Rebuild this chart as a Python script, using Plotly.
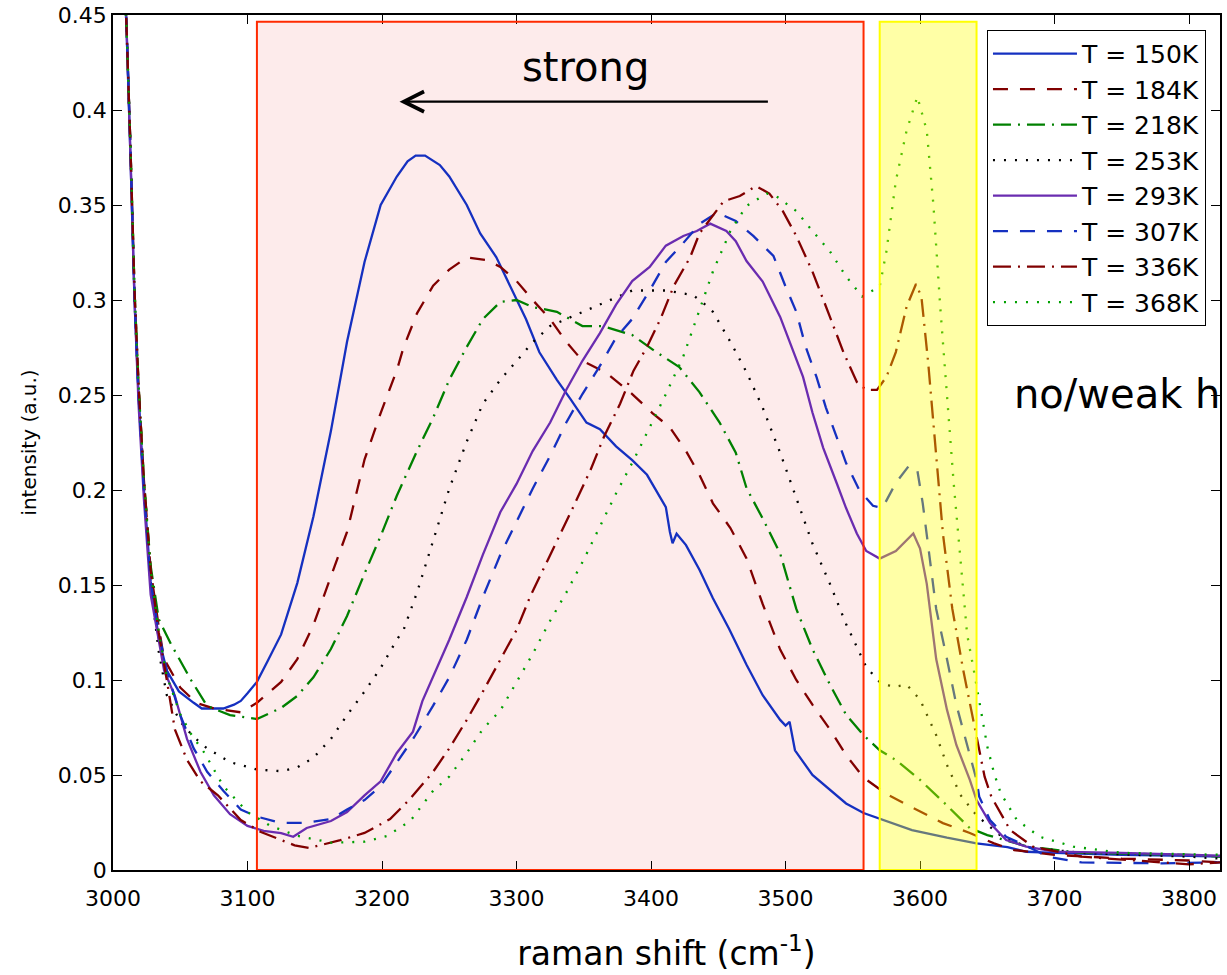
import plotly.graph_objects as go

# ---------------- data ----------------
x_150 = [3005, 3010, 3013, 3016, 3019, 3023, 3028, 3034, 3040, 3049, 3060, 3066, 3075, 3082, 3090, 3095,
         3100, 3107, 3115, 3125, 3137, 3149, 3162, 3174, 3187, 3199, 3211, 3219, 3225, 3232, 3243, 3250,
         3263, 3273, 3285, 3295, 3307, 3317, 3330, 3340, 3352, 3362, 3374, 3386, 3397, 3411, 3414, 3416,
         3419, 3426, 3436, 3446, 3458, 3471, 3483, 3496, 3500, 3503, 3507, 3520, 3533, 3545, 3558, 3570,
         3594, 3620, 3642, 3665, 3679, 3700, 3750, 3800, 3823]
y_150 = [0.52, 0.445, 0.375, 0.30, 0.25, 0.20, 0.152, 0.122, 0.105, 0.094, 0.088, 0.085, 0.085, 0.085, 0.087, 0.089,
         0.093, 0.099, 0.110, 0.124, 0.151, 0.186, 0.231, 0.278, 0.320, 0.350, 0.365, 0.373, 0.376, 0.376, 0.371, 0.365,
         0.350, 0.335, 0.3225, 0.3075, 0.290, 0.2725, 0.258, 0.248, 0.2355, 0.232, 0.223, 0.2157, 0.208, 0.191, 0.178, 0.172,
         0.177, 0.171, 0.158, 0.143, 0.127, 0.108, 0.092, 0.079, 0.076, 0.078, 0.063, 0.050, 0.042, 0.035, 0.030, 0.027,
         0.021, 0.017, 0.014, 0.012, 0.0096, 0.009, 0.008, 0.0075, 0.007]

x_184 = [3005, 3010, 3013, 3016, 3019, 3023, 3028, 3034, 3038, 3050, 3062, 3075, 3095, 3107, 3125, 3137,
         3149, 3162, 3174, 3187, 3199, 3211, 3216, 3226, 3238, 3250, 3263, 3278, 3288, 3300, 3312, 3325,
         3337, 3349, 3367, 3386, 3401, 3414, 3426, 3436, 3446, 3459, 3471, 3483, 3496, 3508, 3520, 3533,
         3545, 3558, 3575, 3595, 3617, 3637, 3655, 3670, 3700, 3750, 3800, 3823]
y_184 = [0.52, 0.445, 0.38, 0.305, 0.255, 0.205, 0.158, 0.128, 0.111, 0.096, 0.088, 0.085, 0.083, 0.088, 0.099, 0.111,
         0.129, 0.154, 0.178, 0.216, 0.2405, 0.263, 0.275, 0.293, 0.3075, 0.316, 0.3224, 0.321, 0.3174, 0.310, 0.300, 0.290,
         0.278, 0.268, 0.2615, 0.2505, 0.2405, 0.233, 0.2205, 0.208, 0.193, 0.180, 0.164, 0.140, 0.116, 0.100, 0.087, 0.074,
         0.0605, 0.0486, 0.040, 0.0326, 0.0247, 0.0195, 0.014, 0.0105, 0.008, 0.006, 0.005, 0.004]

x_218 = [3005, 3010, 3013, 3016, 3019, 3023, 3028, 3034, 3043, 3058, 3070, 3087, 3107, 3125, 3137, 3149,
         3162, 3174, 3187, 3199, 3211, 3226, 3238, 3250, 3263, 3275, 3288, 3300, 3312, 3330, 3349, 3364,
         3386, 3401, 3421, 3436, 3451, 3463, 3471, 3483, 3496, 3508, 3520, 3533, 3545, 3558, 3570, 3582,
         3600, 3620, 3637, 3650, 3680, 3720, 3800, 3823]
y_218 = [0.52, 0.445, 0.38, 0.305, 0.255, 0.205, 0.16, 0.132, 0.119, 0.100, 0.0863, 0.0815, 0.0795, 0.0853, 0.0916, 0.1014,
         0.1163, 0.1337, 0.156, 0.1758, 0.197, 0.2205, 0.238, 0.258, 0.2753, 0.290, 0.299, 0.300, 0.2963, 0.2938, 0.2863, 0.2863,
         0.2816, 0.274, 0.2647, 0.2515, 0.2355, 0.2196, 0.201, 0.185, 0.1666, 0.1374, 0.1163, 0.0976, 0.0817, 0.071, 0.063, 0.0579,
         0.0474, 0.034, 0.022, 0.0184, 0.0123, 0.009, 0.008, 0.007]

x_253 = [3005, 3010, 3013, 3016, 3019, 3023, 3028, 3034, 3040, 3050, 3060, 3070, 3087, 3107, 3125, 3137,
         3149, 3162, 3174, 3187, 3199, 3211, 3216, 3226, 3238, 3250, 3263, 3275, 3288, 3300, 3312, 3325,
         3337, 3362, 3386, 3411, 3431, 3438, 3446, 3459, 3471, 3483, 3496, 3508, 3520, 3533, 3545, 3560,
         3570, 3580, 3590, 3600, 3612, 3620, 3630, 3642, 3660, 3680, 3720, 3800, 3823]
y_253 = [0.52, 0.445, 0.38, 0.30, 0.25, 0.20, 0.15, 0.115, 0.092, 0.078, 0.070, 0.064, 0.0568, 0.0529, 0.052, 0.054,
         0.0591, 0.069, 0.0815, 0.0939, 0.1063, 0.1212, 0.1263, 0.146, 0.1733, 0.2007, 0.2255, 0.2454, 0.258, 0.268, 0.2777, 0.2863,
         0.290, 0.2976, 0.305, 0.305, 0.3026, 0.299, 0.2938, 0.278, 0.262, 0.2434, 0.2196, 0.1958, 0.1718, 0.1506, 0.1295, 0.1068,
         0.099, 0.0963, 0.0976, 0.0897, 0.071, 0.0553, 0.0395, 0.0287, 0.018, 0.012, 0.009, 0.007, 0.006]

x_293 = [3005, 3010, 3013, 3016, 3019, 3023, 3028, 3034, 3038, 3046, 3055, 3065, 3075, 3087, 3100, 3112,
         3125, 3134, 3144, 3162, 3174, 3187, 3199, 3211, 3223, 3230, 3238, 3250, 3263, 3275, 3288, 3300,
         3312, 3325, 3337, 3349, 3362, 3374, 3386, 3399, 3411, 3424, 3434, 3444, 3456, 3463, 3471, 3483,
         3496, 3503, 3513, 3520, 3528, 3538, 3545, 3553, 3560, 3570, 3582, 3595, 3600, 3605, 3612, 3620,
         3627, 3637, 3642, 3652, 3664, 3679, 3700, 3750, 3823]
y_293 = [0.52, 0.445, 0.375, 0.30, 0.245, 0.195, 0.145, 0.12, 0.105, 0.0916, 0.069, 0.0517, 0.0393, 0.0294, 0.0232, 0.0206,
         0.0194, 0.0175, 0.0221, 0.0258, 0.0305, 0.0393, 0.0467, 0.0616, 0.0728, 0.0889, 0.1016, 0.1212, 0.1437, 0.166, 0.1884, 0.2032,
         0.2205, 0.2355, 0.2528, 0.268, 0.2826, 0.2976, 0.310, 0.3174, 0.3286, 0.3337, 0.3363, 0.3402, 0.3363, 0.331, 0.3205, 0.3097,
         0.2911, 0.278, 0.2595, 0.2408, 0.2222, 0.2037, 0.1905, 0.1771, 0.1679, 0.1639, 0.1679, 0.1771, 0.1692, 0.1506, 0.111, 0.0844,
         0.0658, 0.0474, 0.0368, 0.0247, 0.0158, 0.0123, 0.0097, 0.009, 0.0075]

x_307 = [3005, 3010, 3013, 3016, 3019, 3023, 3028, 3034, 3040, 3050, 3060, 3070, 3082, 3095, 3107, 3125,
         3142, 3162, 3174, 3187, 3199, 3211, 3224, 3238, 3250, 3263, 3275, 3288, 3300, 3312, 3325, 3337,
         3349, 3362, 3374, 3386, 3399, 3411, 3424, 3436, 3449, 3463, 3476, 3491, 3500, 3508, 3515, 3523,
         3530, 3538, 3545, 3555, 3565, 3572, 3582, 3592, 3598, 3602, 3607, 3612, 3620, 3627, 3635, 3642,
         3644, 3652, 3664, 3681, 3695, 3720, 3780, 3823]
y_307 = [0.52, 0.445, 0.38, 0.30, 0.25, 0.20, 0.152, 0.125, 0.105, 0.0815, 0.064, 0.0517, 0.0417, 0.0318, 0.0281, 0.0248,
         0.0248, 0.0268, 0.0318, 0.0368, 0.0442, 0.0568, 0.070, 0.0865, 0.1014, 0.1212, 0.1437, 0.166, 0.1833, 0.2007, 0.218, 0.2355,
         0.2505, 0.2653, 0.2802, 0.290, 0.305, 0.320, 0.330, 0.340, 0.346, 0.3416, 0.3337, 0.3232, 0.3071, 0.2938, 0.2753, 0.2595,
         0.2434, 0.2275, 0.2142, 0.1997, 0.1917, 0.1905, 0.2037, 0.213, 0.2103, 0.193, 0.164, 0.1374, 0.111, 0.087, 0.0658, 0.0474,
         0.0386, 0.0263, 0.0175, 0.012, 0.007, 0.004, 0.0035, 0.004]

x_336 = [3005, 3010, 3013, 3016, 3019, 3023, 3028, 3034, 3040, 3046, 3055, 3065, 3078, 3095, 3110, 3122,
         3135, 3146, 3169, 3187, 3206, 3220, 3238, 3250, 3263, 3275, 3288, 3300, 3310, 3320, 3332, 3342,
         3355, 3365, 3377, 3387, 3397, 3407, 3417, 3429, 3436, 3454, 3466, 3478, 3488, 3498, 3508, 3520,
         3533, 3543, 3553, 3560, 3568, 3575, 3582, 3590, 3597, 3601, 3606, 3612, 3617, 3624, 3632, 3638,
         3643, 3648, 3653, 3667, 3684, 3720, 3780, 3800, 3823]
y_336 = [0.52, 0.445, 0.38, 0.305, 0.255, 0.205, 0.158, 0.125, 0.100, 0.074, 0.058, 0.0467, 0.0393, 0.0263, 0.020, 0.0168,
         0.013, 0.0116, 0.0157, 0.0195, 0.0268, 0.0368, 0.0517, 0.064, 0.079, 0.0939, 0.111, 0.1263, 0.1437, 0.1584, 0.1758, 0.1908,
         0.2105, 0.228, 0.2454, 0.2628, 0.2753, 0.290, 0.3075, 0.3224, 0.335, 0.352, 0.3547, 0.360, 0.356, 0.3468, 0.3337, 0.315,
         0.2911, 0.2726, 0.2568, 0.2527, 0.2527, 0.2595, 0.2726, 0.2965, 0.3084, 0.3018, 0.2674, 0.2168, 0.1771, 0.1374, 0.1056, 0.0844,
         0.0668, 0.0491, 0.0386, 0.021, 0.0123, 0.007, 0.004, 0.003, 0.004]

x_368 = [3005, 3010, 3013, 3016, 3019, 3023, 3028, 3034, 3040, 3050, 3058, 3068, 3082, 3100, 3117, 3137,
         3162, 3187, 3204, 3221, 3238, 3250, 3263, 3275, 3288, 3300, 3312, 3325, 3337, 3350, 3362, 3374,
         3387, 3399, 3411, 3424, 3434, 3446, 3459, 3471, 3486, 3493, 3508, 3520, 3533, 3545, 3557, 3570,
         3575, 3582, 3590, 3598, 3605, 3610, 3615, 3620, 3625, 3630, 3635, 3640, 3645, 3650, 3655, 3660,
         3672, 3689, 3714, 3750, 3823]
y_368 = [0.52, 0.445, 0.38, 0.305, 0.255, 0.205, 0.158, 0.125, 0.102, 0.082, 0.0716, 0.0616, 0.0442, 0.0305, 0.0232, 0.018,
         0.0144, 0.0149, 0.018, 0.0258, 0.0417, 0.0492, 0.0616, 0.0742, 0.084, 0.099, 0.1137, 0.1312, 0.146, 0.1634, 0.1808, 0.1982,
         0.2156, 0.233, 0.2504, 0.2703, 0.2911, 0.315, 0.3363, 0.3495, 0.356, 0.3547, 0.3468, 0.3363, 0.3256, 0.3124, 0.3018, 0.3071,
         0.3256, 0.3627, 0.3892, 0.407, 0.3892, 0.3495, 0.2965, 0.2515, 0.2037, 0.1639, 0.124, 0.105, 0.085, 0.065, 0.051, 0.0404,
         0.0263, 0.0175, 0.0123, 0.009, 0.008]

series_names = ["T = 150K", "T = 184K", "T = 218K", "T = 253K", "T = 293K", "T = 307K", "T = 336K", "T = 368K"]

x_tick_vals = [3000, 3100, 3200, 3300, 3400, 3500, 3600, 3700, 3800]
x_tick_text = ["3000", "3100", "3200", "3300", "3400", "3500", "3600", "3700", "3800"]
y_tick_vals = [0, 0.05, 0.1, 0.15, 0.2, 0.25, 0.3, 0.35, 0.4, 0.45]
y_tick_text = ["0", "0.05", "0.1", "0.15", "0.2", "0.25", "0.3", "0.35", "0.4", "0.45"]

# ---------------- styling ----------------
BLUE = "#1530c0"
DRED = "#800000"
GREEN = "#008000"
LGREEN = "#00a000"
PURPLE = "#6a2cb0"
FONT = "DejaVu Sans, Liberation Sans, Arial, sans-serif"

styles = [
    (BLUE, "solid"),
    (DRED, "15px,12px"),
    (GREEN, "18px,7px,2px,7px"),
    ("black", "2px,9px"),
    (PURPLE, "solid"),
    (BLUE, "15px,12px"),
    (DRED, "18px,7px,2px,7px"),
    (LGREEN, "2px,9px"),
]

xs = [x_150, x_184, x_218, x_253, x_293, x_307, x_336, x_368]
ys = [y_150, y_184, y_218, y_253, y_293, y_307, y_336, y_368]

fig = go.Figure()
for name, xv, yv, (col, dash) in zip(series_names, xs, ys, styles):
    fig.add_trace(go.Scatter(x=xv, y=yv, mode="lines", name=name,
                             line=dict(color=col, width=2.3, dash=dash)))

# region boxes
fig.add_shape(type="rect", xref="x", yref="y", x0=3107, x1=3558, y0=0, y1=0.4465,
              fillcolor="#FDEBEB", line=dict(width=0), layer="below")
fig.add_shape(type="rect", xref="x", yref="y", x0=3107, x1=3558, y0=0, y1=0.4465,
              fillcolor="rgba(0,0,0,0)", line=dict(color="#FF2A00", width=2), layer="above")
fig.add_shape(type="rect", xref="x", yref="y", x0=3570, x1=3642, y0=0, y1=0.4465,
              fillcolor="#FFFF00", opacity=0.35, line=dict(width=0), layer="above")
fig.add_shape(type="rect", xref="x", yref="y", x0=3570, x1=3642, y0=0, y1=0.4465,
              fillcolor="rgba(0,0,0,0)", line=dict(color="#FFFF00", width=2), layer="above")

# annotations
fig.add_annotation(x=3351, y=0.4226, xref="x", yref="y", text="strong", showarrow=False,
                   font=dict(family=FONT, size=40, color="black"))
fig.add_annotation(x=3213, y=0.4044, ax=3488, ay=0.4044, xref="x", yref="y", axref="x", ayref="y",
                   text="", showarrow=True, arrowhead=5, arrowsize=1.8, arrowwidth=2.2, arrowcolor="black")
fig.add_annotation(x=3668, y=0.2505, xref="x", yref="y", text="no/weak h", showarrow=False,
                   xanchor="left", font=dict(family=FONT, size=40, color="black"))

axis_common = dict(showline=True, linecolor="black", linewidth=1.5, mirror="ticks",
                   ticks="inside", ticklen=9, tickwidth=1, tickcolor="black",
                   showgrid=False, zeroline=False,
                   tickfont=dict(family=FONT, size=22, color="black"))

fig.update_layout(
    width=1227, height=975,
    margin=dict(l=113, r=7, t=15, b=105, autoexpand=False),
    paper_bgcolor="white", plot_bgcolor="white",
    font=dict(family=FONT, color="black"),
    xaxis=dict(range=[3000, 3823], tickvals=x_tick_vals, ticktext=x_tick_text,
               ticklabelstandoff=8,
               title=dict(text="raman shift (cm<sup>-1</sup>)", font=dict(family=FONT, size=33, color="black"),
                          standoff=32),
               automargin=False, **axis_common),
    yaxis=dict(range=[0, 0.45], tickvals=y_tick_vals, ticktext=y_tick_text,
               title=dict(text="intensity (a.u.)", font=dict(family=FONT, size=20, color="black"),
                          standoff=16),
               automargin=False, **axis_common),
    legend=dict(x=0.7895, y=0.9825, xanchor="left", yanchor="top",
                bgcolor="white", bordercolor="black", borderwidth=1,
                font=dict(family=FONT, size=25, color="black"),
                itemwidth=84),
    showlegend=True,
)

fig.write_html("out.html")
